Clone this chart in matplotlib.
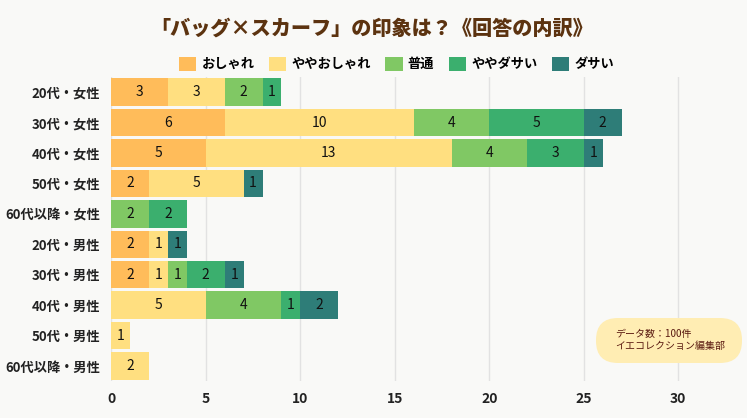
import numpy as np
import matplotlib.pyplot as plt
from matplotlib.patches import FancyBboxPatch

plt.rcParams['font.family'] = ['Noto Sans CJK JP', 'DejaVu Sans']

# data
groups = ["20代・女性", "30代・女性", "40代・女性", "50代・女性", "60代以降・女性",
          "20代・男性", "30代・男性", "40代・男性", "50代・男性", "60代以降・男性"]
answers = ["おしゃれ", "ややおしゃれ", "普通", "ややダサい", "ダサい"]
oshare = [3, 6, 5, 2, 0, 2, 2, 0, 0, 0]
yaya_oshare = [3, 10, 13, 5, 0, 1, 1, 5, 1, 2]
futsu = [2, 4, 4, 0, 2, 0, 1, 4, 0, 0]
yaya_dasai = [1, 5, 3, 0, 2, 0, 2, 1, 0, 0]
dasai = [0, 2, 1, 1, 0, 1, 1, 2, 0, 0]
xticks = [0, 5, 10, 15, 20, 25, 30]

colors = ['#FFBC5A', '#FFDF80', '#80C864', '#3BAF6E', '#2E7D78']
bg = '#F9F9F7'

fig = plt.figure(figsize=(7.47, 4.18), dpi=100, facecolor=bg)
ax = fig.add_axes([0.149, 0.088, 0.835, 0.728], facecolor=bg)

series = [oshare, yaya_oshare, futsu, yaya_dasai, dasai]
y = np.arange(len(groups))
left = np.zeros(len(groups))
for name, vals, c in zip(answers, series, colors):
    vals = np.array(vals)
    bars = ax.barh(y, vals, left=left, height=0.9, color=c, label=name, zorder=2)
    for b, v in zip(bars, vals):
        if v > 0:
            ax.text(b.get_x() + b.get_width() / 2, b.get_y() + b.get_height() / 2, str(v),
                    ha='center', va='center', fontsize=10, color='#111111', zorder=3)
    left += vals

ax.set_yticks(y)
ax.set_yticklabels(groups, fontsize=9.5, fontweight='bold', color='#222222')
ax.set_ylim(len(groups) - 0.5, -0.5)
ax.set_xlim(0, 33)
ax.set_xticks(xticks)
ax.set_xticklabels([str(t) for t in xticks], fontsize=10, fontweight='bold', color='#222222')
ax.tick_params(length=0, pad=8)
ax.grid(axis='x', color='#E2E2E2', linewidth=1, zorder=0)
for s in ax.spines.values():
    s.set_visible(False)

fig.text(0.497, 0.932, "「バッグ×スカーフ」の印象は？《回答の内訳》", ha='center', va='center',
         fontsize=14.5, fontweight='heavy', color='#5C3310')

fig.legend(loc='center', bbox_to_anchor=(0.531, 0.847), ncol=5, frameon=False,
           handlelength=1.3, handleheight=1.3, handletextpad=0.4,
           columnspacing=1.1, prop={'weight': 'bold', 'size': 9.5})

# note box (inches)
box = FancyBboxPatch((5.96, 0.55), 1.46, 0.45, boxstyle="round,pad=0,rounding_size=0.22",
                     transform=fig.dpi_scale_trans, facecolor='#FFEDB3', edgecolor='none')
fig.patches.append(box)
fig.text(0.823, 0.187, "データ数：100件\nイエコレクション編集部", ha='left', va='center',
         fontsize=7.2, color='#5A1A10', linespacing=1.3)

plt.savefig("out.png", dpi=100, facecolor=bg)
